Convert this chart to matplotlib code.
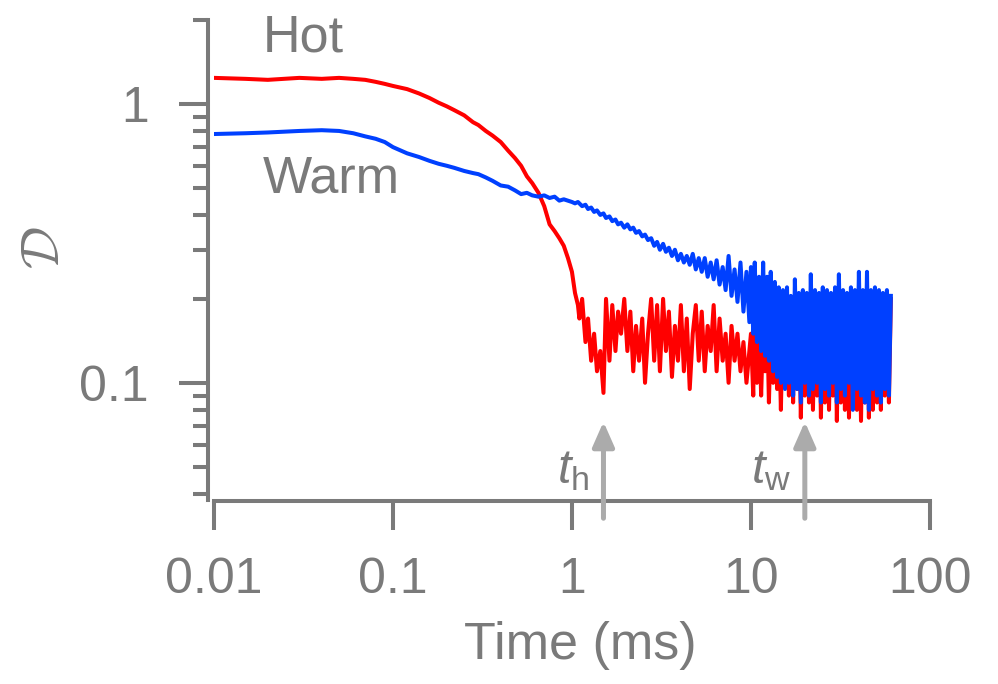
import matplotlib
matplotlib.use('Agg')
import matplotlib.pyplot as plt
from matplotlib.ticker import FixedLocator, FixedFormatter, LogLocator, NullFormatter, NullLocator

plt.rcParams['font.family'] = ['Liberation Sans', 'DejaVu Sans']
plt.rcParams['mathtext.fontset'] = 'custom'
plt.rcParams['mathtext.rm'] = 'Liberation Sans'
plt.rcParams['mathtext.it'] = 'Liberation Sans:italic'

# time grid (ms), shared by both traces
time_ms = [
    0.01, 0.015, 0.02, 0.03, 0.04, 0.05, 0.06, 0.07, 0.08, 0.09,
    0.10, 0.12, 0.14, 0.16, 0.18, 0.20, 0.22, 0.25, 0.28, 0.30,
    0.33, 0.36, 0.40, 0.44, 0.48, 0.52, 0.56, 0.60, 0.65, 0.70,
    0.75, 0.80, 0.85, 0.90, 0.95, 1.00, 1.04, 1.08,
    1.1, 1.14, 1.19, 1.23, 1.28, 1.33, 1.38, 1.44, 1.5, 1.55,
    1.62, 1.68, 1.75, 1.81, 1.88, 1.96, 2.04, 2.12, 2.2, 2.28,
    2.37, 2.47, 2.56, 2.66, 2.77, 2.88, 2.99, 3.1, 3.23, 3.35,
    3.48, 3.62, 3.76, 3.91, 4.06, 4.22, 4.38, 4.55, 4.73, 4.92,
    5.11, 5.31, 5.52, 5.73, 5.96, 6.19, 6.43, 6.68, 6.95, 7.22,
    7.5, 7.79, 8.1, 8.41, 8.74, 9.08, 9.44, 9.8,
    10, 10.3, 10.5, 10.8, 11.1, 11.4, 11.7, 12, 12.3, 12.6,
    12.9, 13.3, 13.6, 14, 14.3, 14.7, 15.1, 15.5, 15.9, 16.3,
    16.7, 17.2, 17.6, 18.1, 18.5, 19, 19.5, 20, 20.5, 21.1,
    21.6, 22.2, 22.8, 23.4, 24, 24.6, 25.2, 25.9, 26.6, 27.3,
    28, 28.7, 29.5, 30.2, 31, 31.8, 32.7, 33.5, 34.4, 35.3,
    36.2, 37.1, 38.1, 39.1, 40.1, 41.2, 42.2, 43.3, 44.5, 45.6,
    46.8, 48, 49.3, 50.6, 51.9, 53.2, 54.6, 56, 57.5, 59,
    60.5,
]

hot = [
    1.24, 1.23, 1.22, 1.24, 1.23, 1.24, 1.23, 1.22, 1.20, 1.18,
    1.16, 1.13, 1.09, 1.05, 1.01, 0.98, 0.95, 0.91, 0.86, 0.84,
    0.80, 0.77, 0.73, 0.68, 0.64, 0.60, 0.55, 0.52, 0.48, 0.43,
    0.37, 0.35, 0.33, 0.31, 0.28, 0.25, 0.21, 0.19,
    0.17, 0.20, 0.14, 0.17, 0.12, 0.15, 0.11, 0.13, 0.092, 0.20,
    0.12, 0.19, 0.13, 0.18, 0.15, 0.20, 0.13, 0.18, 0.11, 0.16,
    0.12, 0.17, 0.10, 0.15, 0.20, 0.12, 0.19, 0.11, 0.20, 0.13,
    0.18, 0.105, 0.16, 0.12, 0.19, 0.11, 0.17, 0.095, 0.15, 0.19,
    0.12, 0.18, 0.11, 0.16, 0.13, 0.19, 0.11, 0.17, 0.12, 0.15,
    0.10, 0.16, 0.12, 0.15, 0.11, 0.14, 0.10, 0.13,
    0.15, 0.09, 0.19, 0.10, 0.17, 0.09, 0.16, 0.11, 0.18, 0.085,
    0.15, 0.10, 0.20, 0.095, 0.17, 0.08, 0.19, 0.10, 0.16, 0.09,
    0.20, 0.085, 0.18, 0.095, 0.20, 0.075, 0.17, 0.09, 0.19, 0.085,
    0.20, 0.08, 0.19, 0.09, 0.20, 0.075, 0.18, 0.085, 0.20, 0.08,
    0.19, 0.09, 0.20, 0.073, 0.19, 0.085, 0.20, 0.08, 0.19, 0.075,
    0.20, 0.085, 0.19, 0.08, 0.20, 0.073, 0.19, 0.085, 0.20, 0.075,
    0.19, 0.08, 0.20, 0.085, 0.19, 0.08, 0.20, 0.09, 0.19, 0.085,
    0.20,
]

warm = [
    0.78, 0.785, 0.79, 0.80, 0.805, 0.80, 0.785, 0.765, 0.75, 0.73,
    0.70, 0.665, 0.645, 0.625, 0.61, 0.60, 0.59, 0.575, 0.565, 0.56,
    0.545, 0.53, 0.51, 0.505, 0.49, 0.475, 0.48, 0.47, 0.465, 0.47,
    0.46, 0.465, 0.45, 0.455, 0.45, 0.445, 0.44, 0.445,
    0.44, 0.43, 0.435, 0.42, 0.425, 0.41, 0.415, 0.40, 0.405, 0.39,
    0.395, 0.38, 0.385, 0.37, 0.375, 0.36, 0.37, 0.355, 0.36, 0.345,
    0.35, 0.335, 0.34, 0.325, 0.33, 0.31, 0.32, 0.30, 0.315, 0.295,
    0.305, 0.285, 0.30, 0.275, 0.29, 0.27, 0.285, 0.265, 0.29, 0.255,
    0.28, 0.25, 0.28, 0.24, 0.27, 0.235, 0.275, 0.225, 0.26, 0.215,
    0.285, 0.205, 0.255, 0.195, 0.27, 0.18, 0.25, 0.165,
    0.26, 0.15, 0.27, 0.14, 0.24, 0.13, 0.27, 0.125, 0.24, 0.12,
    0.25, 0.11, 0.23, 0.105, 0.22, 0.10, 0.215, 0.095, 0.22, 0.10,
    0.205, 0.09, 0.235, 0.095, 0.21, 0.085, 0.215, 0.10, 0.21, 0.09,
    0.245, 0.095, 0.215, 0.10, 0.21, 0.085, 0.22, 0.095, 0.215, 0.09,
    0.21, 0.10, 0.22, 0.085, 0.245, 0.095, 0.215, 0.09, 0.21, 0.10,
    0.22, 0.08, 0.215, 0.095, 0.25, 0.09, 0.215, 0.085, 0.25, 0.08,
    0.215, 0.095, 0.22, 0.09, 0.215, 0.085, 0.21, 0.095, 0.215, 0.09,
    0.205,
]

x_ticks = [0.01, 0.1, 1, 10, 100]
x_tick_labels = ['0.01', '0.1', '1', '10', '100']
y_ticks = [0.1, 1]
y_tick_labels = ['0.1', '1']

marker_times = [1.5, 20]
marker_labels = [r'$t_\mathrm{h}$', r'$t_\mathrm{w}$']

GRAY = '#7a7a7a'
ARROW_GRAY = '#ababab'

fig = plt.figure(figsize=(9.98, 6.84), dpi=100)
ax = fig.add_axes([0.2144, 0.269, 0.7174, 0.7018])

ax.plot(time_ms, hot, color='#ff0000', lw=2.9)
ax.plot(time_ms, warm, color='#0040ff', lw=2.9)

ax.set_xscale('log')
ax.set_yscale('log')
ax.set_xlim(0.01, 100)
ax.set_ylim(0.038, 2.0)

for side in ['top', 'right']:
    ax.spines[side].set_visible(False)
for side in ['left', 'bottom']:
    ax.spines[side].set_color(GRAY)
    ax.spines[side].set_linewidth(2.9)
ax.spines['left'].set_position(('outward', 4))
ax.spines['bottom'].set_position(('outward', 1))

ax.xaxis.set_major_locator(FixedLocator(x_ticks))
ax.xaxis.set_major_formatter(FixedFormatter(x_tick_labels))
ax.xaxis.set_minor_locator(NullLocator())
ax.yaxis.set_major_locator(FixedLocator(y_ticks))
ax.yaxis.set_major_formatter(FixedFormatter(y_tick_labels))
ax.yaxis.set_minor_locator(LogLocator(base=10, subs=range(2, 10)))
ax.yaxis.set_minor_formatter(NullFormatter())

ax.tick_params(which='major', length=21, width=2.9, color=GRAY,
               labelcolor=GRAY, labelsize=36)
ax.tick_params(which='minor', length=11, width=2.9, color=GRAY)
ax.tick_params(axis='x', which='major', pad=19)
ax.tick_params(axis='y', which='major', pad=22)

ax.set_xlabel('Time (ms)', fontsize=37.5, color=GRAY)
ax.xaxis.set_label_coords(0.511, -0.252)
fig.text(45 / 998, 1 - 248 / 684, r'$\mathcal{D}$', rotation=90,
         math_fontfamily='cm', fontsize=38, color=GRAY,
         ha='center', va='center')

ax.text(0.0187, 1.54, 'Hot', fontsize=37.5, color=GRAY, va='baseline')
ax.text(0.0187, 0.482, 'Warm', fontsize=37.5, color=GRAY, va='baseline')

for t, lab in zip(marker_times, marker_labels):
    ax.annotate('', xy=(t, 0.163), xytext=(t, -0.038),
                xycoords=('data', 'axes fraction'),
                textcoords=('data', 'axes fraction'),
                arrowprops=dict(arrowstyle='-|>,head_length=0.75,head_width=0.33',
                                mutation_scale=20, color=ARROW_GRAY, lw=3.6,
                                shrinkA=0, shrinkB=0),
                annotation_clip=False, zorder=5)
    ax.annotate(lab, xy=(t, 0.035), xycoords=('data', 'axes fraction'),
                xytext=(-10, 0), textcoords='offset points',
                ha='right', va='baseline', fontsize=35, color=GRAY)

fig.savefig('out.png', dpi=100)
